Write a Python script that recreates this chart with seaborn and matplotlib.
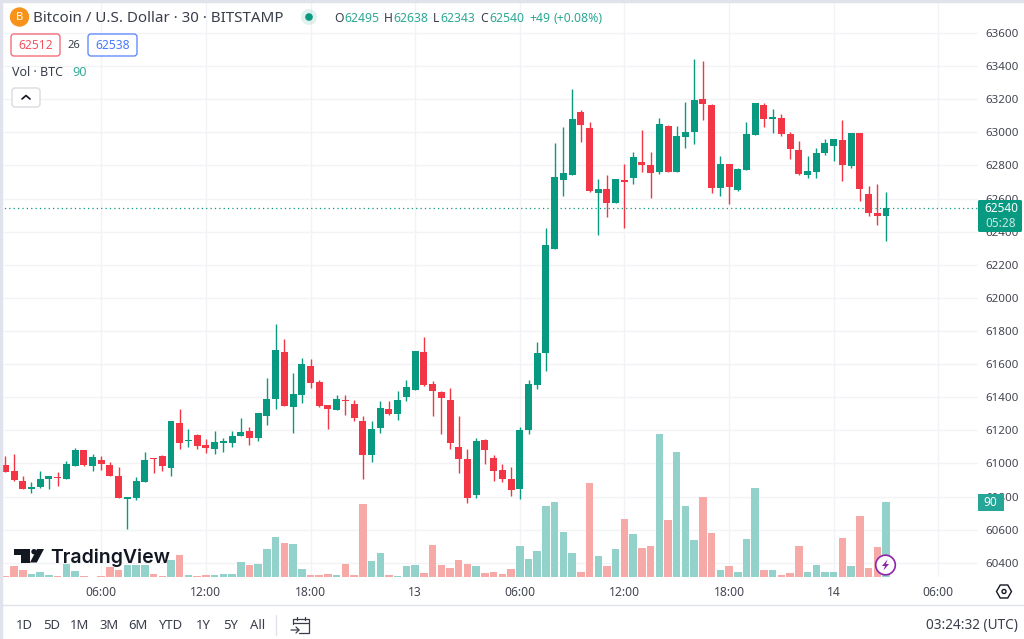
import matplotlib
matplotlib.use("Agg")
import matplotlib.pyplot as plt
import numpy as np
import pandas as pd
import seaborn as sns
from matplotlib.patches import Circle, FancyBboxPatch, Polygon, Rectangle, RegularPolygon

GREEN = "#089981"
RED = "#F23645"
VOL_GREEN = "#92d2cb"
VOL_RED = "#f7a9a7"
GRID = "#f2f3f7"
INK = "#3a3e4a"
LABEL = "#434651"

# 30 min candles
opens = [60990, 60952, 60892, 60848, 60858, 60904, 60920, 60906, 60986, 61082,
         60984, 61022, 60990, 60926, 60788, 60792, 60886, 61032, 61044, 60972,
         61246, 61136, 61170, 61112, 61088, 61122, 61124, 61164, 61198, 61152,
         61284, 61388, 61672, 61340, 61414, 61586, 61492, 61350, 61322, 61386,
         61356, 61254, 61052, 61214, 61326, 61296, 61404, 61446, 61672, 61482,
         61434, 61386, 61102, 61028, 60812, 61140, 61034, 60958, 60906, 60844,
         61202, 61474, 61666, 62296, 62712, 62744, 63122, 63024, 62634, 62660,
         62572, 62712, 62724, 62822, 62802, 62762, 63040, 62760, 62974, 63000,
         63202, 63166, 62664, 62806, 62654, 62774, 62986, 63166, 63078, 63086,
         62992, 62896, 62740, 62762, 62876, 62918, 62954, 62796, 62996, 62630,
         62514, 62495]
highs = [61046, 61058, 60926, 60890, 60954, 60926, 60946, 61012, 61092, 61084,
         61054, 61046, 61006, 60978, 60792, 60918, 61072, 61034, 61050, 61254,
         61330, 61206, 61176, 61150, 61194, 61156, 61194, 61276, 61222, 61306,
         61516, 61842, 61750, 61546, 61636, 61630, 61502, 61354, 61416, 61412,
         61386, 61286, 61254, 61378, 61378, 61436, 61502, 61678, 61766, 61500,
         61438, 61458, 61284, 61090, 61152, 61146, 61050, 60996, 60976, 61222,
         61502, 61736, 62420, 62934, 63030, 63260, 63134, 63062, 62716, 62740,
         62720, 62810, 62880, 63016, 62882, 63086, 63042, 63038, 63184, 63442,
         63430, 63168, 62856, 62808, 62786, 63064, 63174, 63174, 63142, 63112,
         63002, 62946, 62854, 62906, 62962, 62960, 63074, 62998, 62998, 62676,
         62690, 62638]
lows = [60946, 60894, 60846, 60822, 60854, 60844, 60866, 60906, 60982, 60982,
        60956, 60962, 60924, 60790, 60606, 60782, 60886, 60942, 60952, 60924,
        61088, 61098, 61088, 61064, 61058, 61066, 61098, 61164, 61110, 61134,
        61230, 61328, 61348, 61184, 61366, 61456, 61338, 61210, 61322, 61294,
        61258, 60908, 61006, 61184, 61294, 61262, 61374, 61442, 61466, 61286,
        61176, 61088, 60942, 60762, 60794, 60994, 60892, 60886, 60806, 60784,
        61176, 61450, 61558, 62296, 62616, 62740, 62942, 62640, 62382, 62490,
        62572, 62420, 62688, 62762, 62604, 62746, 62760, 62760, 62904, 62928,
        63074, 62632, 62614, 62566, 62644, 62774, 62986, 63030, 62996, 62978,
        62838, 62744, 62724, 62724, 62860, 62824, 62704, 62786, 62584, 62496,
        62442, 62343]
closes = [60946, 60898, 60848, 60854, 60904, 60924, 60910, 60998, 61084, 60990,
          61038, 60994, 60924, 60790, 60792, 60892, 61022, 61026, 60982, 61254,
          61122, 61142, 61104, 61096, 61130, 61134, 61164, 61192, 61152, 61306,
          61388, 61686, 61348, 61420, 61600, 61488, 61344, 61326, 61392, 61374,
          61272, 61052, 61210, 61336, 61300, 61382, 61460, 61678, 61474, 61438,
          61394, 61126, 61028, 60794, 61134, 61080, 60954, 60908, 60842, 61204,
          61478, 61668, 62322, 62728, 62752, 63082, 63046, 62644, 62660, 62574,
          62720, 62702, 62850, 62802, 62756, 63052, 62760, 62976, 63000, 63196,
          63168, 62664, 62806, 62668, 62780, 62988, 63174, 63080, 63092, 62988,
          62900, 62746, 62764, 62876, 62934, 62960, 62804, 62998, 62658, 62512,
          62496, 62540]
volumes = [1.2, 13.6, 8.8, 4, 6, 2, 0.8, 15.2, 7.6, 0.8,
           0.4, 0.8, 12, 8.8, 14, 14, 14, 3.2, 1.6, 20.8,
           26, 2.8, 1.2, 2.8, 2, 3.2, 3.2, 18.4, 14.8, 16,
           34, 48, 41.2, 39.2, 9.2, 2, 2, 3.2, 2.4, 15.6,
           2.8, 88, 19.6, 28.4, 2.8, 1.6, 12.8, 14.8, 5.2, 38,
           14, 11.2, 20.8, 15.6, 12.8, 4.8, 6, 3.6, 9.2, 37.2,
           21, 30.8, 85.6, 89.6, 53.6, 28.8, 5.6, 113.2, 25.6, 13.6,
           34, 69.2, 51.2, 34.4, 36.8, 171.6, 68, 149.6, 84.8, 44.8,
           96.4, 52.8, 8, 12.8, 5.6, 45.2, 106.4, 8.8, 8.8, 2.8,
           4.4, 36.8, 6, 14.8, 6, 6, 46.4, 13.6, 73.6, 10.4,
           36, 89.6]

price_ticks = list(range(60400, 63800, 200))
time_ticks = [11, 23, 35, 47, 59, 71, 83, 95, 107]
time_labels = ["06:00", "12:00", "18:00", "13", "06:00", "12:00", "18:00", "14", "06:00"]
periods = ["1D", "5D", "1M", "3M", "6M", "YTD", "1Y", "5Y", "All"]

df = pd.DataFrame({"open": opens, "high": highs, "low": lows, "close": closes, "volume": volumes})
df["idx"] = np.arange(len(df))
df["dir"] = np.where(df["close"] >= df["open"], "up", "down")

sns.set_theme(style="white")
plt.rcParams["font.family"] = ["Noto Sans", "DejaVu Sans"]

fig = plt.figure(figsize=(10.24, 6.39), dpi=100)
ax = fig.add_axes([0, 62 / 639, 978 / 1024, 577 / 639])

# Candles
colors = df["dir"].map({"up": GREEN, "down": RED})
ax.vlines(df["idx"], df["low"], df["high"], colors=colors, linewidth=1.0, zorder=3)
ax.bar(
    df["idx"],
    np.maximum((df["close"] - df["open"]).abs(), 8),
    bottom=df[["open", "close"]].min(axis=1),
    width=0.8,
    color=colors,
    linewidth=0,
    zorder=4,
)
ax.axhline(closes[-1], color=GREEN, linewidth=0.9, linestyle=(0, (1, 2.5)), zorder=2)

ax.set_xlim(-0.61, 111.55)
ax.set_ylim(60314, 63799)
ax.set_yticks(price_ticks)
ax.set_yticklabels([str(p) for p in price_ticks])
ax.yaxis.tick_right()
ax.set_xticks(time_ticks)
ax.set_xticklabels(time_labels)
ax.tick_params(axis="y", length=0, pad=5.5, labelsize=8.3, labelcolor=LABEL)
ax.tick_params(axis="x", length=0, pad=6.2, labelsize=8.7, labelcolor=LABEL)
for lab in ax.get_xticklabels():
    if lab.get_text() in ("13", "14"):
        lab.set_fontweight("bold")
ax.grid(True, color=GRID, linewidth=1)
ax.set_axisbelow(True)
sns.despine(ax=ax, left=True, right=True, top=True, bottom=True)

# Volume pane sits in the same area
vol_ax = fig.add_axes(ax.get_position(), facecolor="none")
sns.barplot(
    data=df,
    x="idx",
    y="volume",
    hue="dir",
    palette={"up": VOL_GREEN, "down": VOL_RED},
    native_scale=True,
    dodge=False,
    width=0.86,
    saturation=1,
    linewidth=0,
    legend=False,
    ax=vol_ax,
)
vol_ax.set_xlim(ax.get_xlim())
vol_ax.set_ylim(0, 692)
vol_ax.axis("off")

# Everything TradingView draws around the chart, in screen pixels
ui = fig.add_axes([0, 0, 1, 1], facecolor="none")
ui.set_xlim(0, 1024)
ui.set_ylim(639, 0)
ui.axis("off")

ui.add_patch(Rectangle((0, 0), 1024, 2, color="#e0e3eb", zorder=1))
ui.add_patch(Rectangle((0, 0), 2, 639, color="#e0e3eb", zorder=1))
ui.plot([2, 1024], [605, 605], color="#e0e3eb", lw=1)

# Header
ui.add_patch(Circle((19.5, 17), 9, color="#f7931a"))
ui.text(19.5, 17, "B", color="white", fontsize=8, fontweight="bold", ha="center", va="center")
ui.text(33, 18, "Bitcoin / U.S. Dollar · 30 · BITSTAMP", color=INK, fontsize=10.9, va="center")
ui.add_patch(Circle((309, 17), 8, color=GREEN, alpha=0.12, lw=0))
ui.add_patch(Circle((309, 17), 3.8, color=GREEN, lw=0))
for x, s in [(334, "O"), (384, "H"), (433, "L"), (480, "C")]:
    ui.text(x, 18, s, color=INK, fontsize=8.8, va="center")
for x, s in [(344, "62495"), (393, "62638"), (440, "62343"), (489, "62540"),
             (529, "+49"), (554, "(+0.08%)")]:
    ui.text(x, 18, s, color=GREEN, alpha=0.85, fontsize=8.8, va="center")

for x, s, c in [(11, "62512", RED), (88, "62538", "#2962ff")]:
    ui.add_patch(FancyBboxPatch((x, 34), 49, 22, boxstyle="round,pad=0,rounding_size=3",
                                fc="white", ec=c, lw=0.9, alpha=0.8))
    ui.text(x + 24.5, 45.5, s, color=c, fontsize=8.7, ha="center", va="center", alpha=0.85)
ui.text(74, 45.5, "26", color=INK, fontsize=8, ha="center", va="center")
ui.text(12, 73, "Vol · BTC", color=INK, fontsize=9, va="center")
ui.text(72, 73, "90", color=GREEN, alpha=0.8, fontsize=9.2, va="center")
ui.add_patch(FancyBboxPatch((12, 88), 28, 19, boxstyle="round,pad=0,rounding_size=3",
                            fc="white", ec="#d6d8de", lw=0.9))
ui.plot([22, 26, 30], [99, 95.5, 99], color="#131722", lw=1.2)

# Price and volume tags
ui.add_patch(FancyBboxPatch((978, 200), 44, 32, boxstyle="round,pad=0,rounding_size=1.5", fc=GREEN, ec="none"))
ui.text(1001, 209, "62540", color="white", fontsize=8.5, ha="center", va="center")
ui.text(1001, 223.5, "05:28", color="#c8e8e2", fontsize=8.5, ha="center", va="center")
ui.add_patch(Rectangle((978, 494), 25.5, 17, fc="#26a696", ec="none"))
ui.text(990.5, 503, "90", color="white", fontsize=8.5, ha="center", va="center")

# Logo
ui.add_patch(Polygon([(14, 549), (29.5, 549), (29.5, 562.5), (21, 562.5), (21, 554.5), (14, 554.5)],
                     color="#131722", lw=0))
ui.add_patch(Circle((34, 551.7), 2.7, color="#131722", lw=0))
ui.add_patch(Polygon([(44, 549), (36.8, 562.5), (30, 562.5), (37, 549)], color="#131722", lw=0))
ui.text(50.5, 557.5, "TradingView", color="#131722", fontsize=14, fontweight="semibold",
        family=["Inter", "DejaVu Sans"], va="center")

# Bolt badge on the last volume bar
ui.add_patch(Circle((885.5, 565), 9.8, fc="white", ec="#8e24aa", lw=1.2, zorder=5))
ui.add_patch(Polygon([(887.5, 559.5), (882, 566), (885, 566), (883.5, 570.5), (889, 564), (886, 564)],
                     color="#8e24aa", lw=0, zorder=6))

# Settings icon
ui.add_patch(RegularPolygon((1004, 591.5), 6, radius=7.5, orientation=np.pi / 2, fc="white", ec="#131722", lw=1))
ui.add_patch(Circle((1004, 591.5), 2, fc="white", ec="#131722", lw=1))

# Bottom toolbar
for x, s in zip([24, 52, 80, 109, 138, 171, 203, 231, 258], periods):
    ui.text(x, 625.5, s, color=INK, fontsize=9.4, ha="center", va="center")
ui.plot([276, 276], [615, 635], color="#e0e3eb", lw=1)
ui.plot([293, 293, 309, 309, 299], [624, 619, 619, 633, 633], color=INK, lw=0.9)
ui.plot([293, 309], [623, 623], color=INK, lw=0.9)
ui.plot([297, 297], [617, 620], color=INK, lw=0.9)
ui.plot([305, 305], [617, 620], color=INK, lw=0.9)
ui.plot([291, 299, 296], [630, 630, 627], color=INK, lw=0.9)
ui.plot([299, 296], [630, 633], color=INK, lw=0.9)
ui.text(1018, 625.5, "03:24:32 (UTC)", color=INK, fontsize=9.8, ha="right", va="center")

fig.savefig("out.png", dpi=100)
